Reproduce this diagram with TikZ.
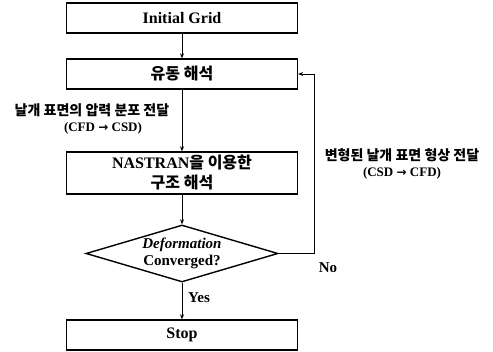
\documentclass[tikz,border=0pt]{standalone}
\usepackage{fontspec}
\setmainfont{Liberation Serif}
\newfontfamily\kr{Noto Sans CJK KR}
\newfontfamily\arw{DejaVu Sans}
\usetikzlibrary{arrows.meta,shapes.geometric}

\begin{document}
\begin{tikzpicture}[x=1pt, y=-1pt,
    blk/.style={rectangle, draw=black, line width=1.4pt, minimum width=231pt,
                minimum height=30pt, font=\fontsize{16}{20}\selectfont\bfseries,
                inner sep=2pt, align=center},
    dec/.style={diamond, draw=black, line width=1.4pt, aspect=3.37,
                minimum width=192pt, minimum height=57pt, inner sep=0pt,
                align=center, font=\fontsize{15}{17}\selectfont\bfseries},
    lbl/.style={font=\fontsize{13}{15}\selectfont\bfseries, inner sep=0pt},
    krlbl/.style={font=\fontsize{14}{16}\selectfont\kr\bfseries, inner sep=0pt}
  ]
  \useasboundingbox (0,0) rectangle (493,352);
  \node[blk] (grid) at (182,18) {Initial Grid};
  \node[blk] (flow) at (182,74) {\kr 유동 해석};
  \node[blk, minimum height=42pt] (nas) at (182,173) {NASTRAN{\kr 을 이용한}\\{\kr 구조 해석}};
  \node[dec] (conv) at (182,253.5) {\textit{Deformation}\\Converged?};
  \node[blk] (stop) at (182,335) {Stop};
  \foreach \a/\b in {grid/flow, flow/nas, nas/conv, conv/stop}
    \draw[-{Stealth[length=5pt,width=4pt]}, line width=0.7pt] (\a)--(\b);
  % feedback loop
  \coordinate (turn) at (314,253.5);
  \draw[-{Stealth[length=5pt,width=4pt]}, line width=0.7pt] (conv.east) -- (turn) |- (flow.east);
  \node[krlbl] (la1) at (92,110) {날개 표면의 압력 분포 전달};
  \node[lbl] (la2) at (103,128) {(CFD {\arw\fontsize{12}{14}\selectfont →} CSD)};
  \node[krlbl] (lb1) at (402,155) {변형된 날개 표면 형상 전달};
  \node[lbl] (lb2) at (402,173) {(CSD {\arw\fontsize{12}{14}\selectfont →} CFD)};
  \node[lbl, font=\fontsize{15}{17}\selectfont\bfseries] (no) at (328,268) {No};
  \node[lbl, font=\fontsize{15}{17}\selectfont\bfseries] (yes) at (199,298) {Yes};
\end{tikzpicture}
\end{document}
